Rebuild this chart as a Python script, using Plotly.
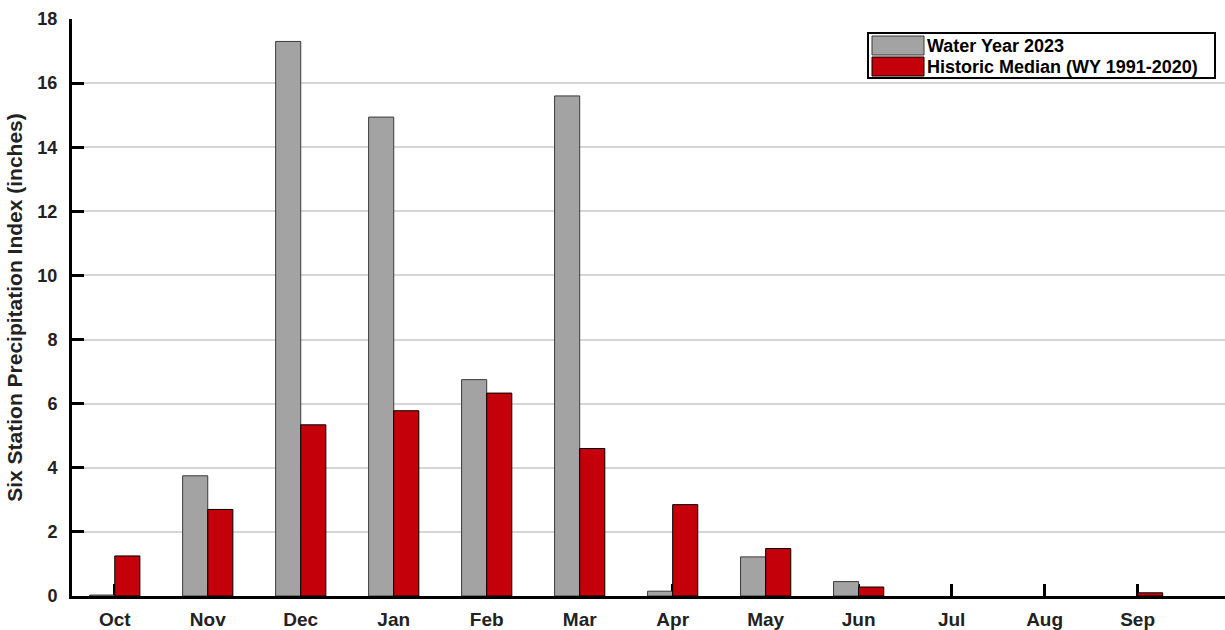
import plotly.graph_objects as go

# Monthly Six Station Precipitation Index (inches), water year Oct-Sep
months = ["Oct", "Nov", "Dec", "Jan", "Feb", "Mar", "Apr", "May", "Jun", "Jul", "Aug", "Sep"]
wy2023 = [0.03, 3.75, 17.3, 14.94, 6.75, 15.6, 0.15, 1.22, 0.45, 0.0, 0.0, 0.0]
historic_median = [1.25, 2.7, 5.34, 5.78, 6.33, 4.6, 2.85, 1.48, 0.28, 0.0, 0.0, 0.1]

y_ticks = [0, 2, 4, 6, 8, 10, 12, 14, 16, 18]

W, H = 1225, 630
ML, MR, MT, MB = 72, 0, 19, 34

GRAY = "#a3a3a3"
RED = "#c4000b"
FONT = "Liberation Sans, Arial, sans-serif"


def outline_widths(values):
    # empty months get no outline so nothing is drawn on the baseline
    return [1 if v > 0 else 0 for v in values]


fig = go.Figure()
fig.add_trace(go.Bar(
    x=months, y=wy2023, name="Water Year 2023",
    marker=dict(color=GRAY, line=dict(color="#3a3a3a", width=outline_widths(wy2023))),
))
fig.add_trace(go.Bar(
    x=months, y=historic_median, name="Historic Median (WY 1991-2020)",
    marker=dict(color=RED, line=dict(color="#000000", width=outline_widths(historic_median))),
))


def px_x(p):
    return (p - ML) / (W - ML - MR)


def px_y(p):
    return (H - MB - p) / (H - MT - MB)


# Legend box drawn in the upper-right corner
legend_items = ["Water Year 2023", "Historic Median (WY 1991-2020)"]
legend_colors = [GRAY, RED]
legend_edges = ["#3a3a3a", "#000000"]
shapes = [dict(type="rect", xref="paper", yref="paper",
               x0=px_x(868), x1=px_x(1215), y0=px_y(78), y1=px_y(33),
               line=dict(color="black", width=2), fillcolor="white", layer="above")]
annotations = []
for i, (label, col, edge) in enumerate(zip(legend_items, legend_colors, legend_edges)):
    top = 36 + i * 21
    shapes.append(dict(type="rect", xref="paper", yref="paper",
                       x0=px_x(872), x1=px_x(924), y0=px_y(top + 19), y1=px_y(top),
                       line=dict(color=edge, width=1), fillcolor=col, layer="above"))
    annotations.append(dict(xref="paper", yref="paper", x=px_x(925), y=px_y(top + 10),
                            text=f"<b>{label}</b>", showarrow=False, xanchor="left",
                            yanchor="middle", font=dict(family=FONT, size=18, color="black")))

fig.update_layout(
    width=W, height=H,
    margin=dict(l=ML, r=MR, t=MT, b=MB),
    paper_bgcolor="white", plot_bgcolor="white",
    barmode="group", bargap=0.46, bargroupgap=0.0,
    showlegend=False,
    font=dict(family=FONT, size=17, color="#222222"),
    shapes=shapes, annotations=annotations,
)
fig.update_xaxes(
    range=[-0.46, 11.94],
    showline=True, linecolor="black", linewidth=3,
    ticks="inside", ticklen=12, tickwidth=3, tickcolor="black",
    tickfont=dict(family=FONT, size=19, color="#222222", weight="bold"),
    ticklabelstandoff=4,
    showgrid=False, layer="below traces",
)
fig.update_yaxes(
    range=[0, 18], tickvals=y_ticks,
    showline=True, linecolor="black", linewidth=3,
    ticks="inside", ticklen=12, tickwidth=3, tickcolor="black",
    tickfont=dict(family=FONT, size=18, color="#222222", weight="bold"),
    ticklabelstandoff=8,
    showgrid=True, gridcolor="#d6d6d6", gridwidth=1.5,
    zeroline=False, layer="below traces",
    title=dict(text="<b>Six Station Precipitation Index (inches)</b>", standoff=10,
               font=dict(family=FONT, size=21, color="#222222")),
)

fig.write_html("out.html")
